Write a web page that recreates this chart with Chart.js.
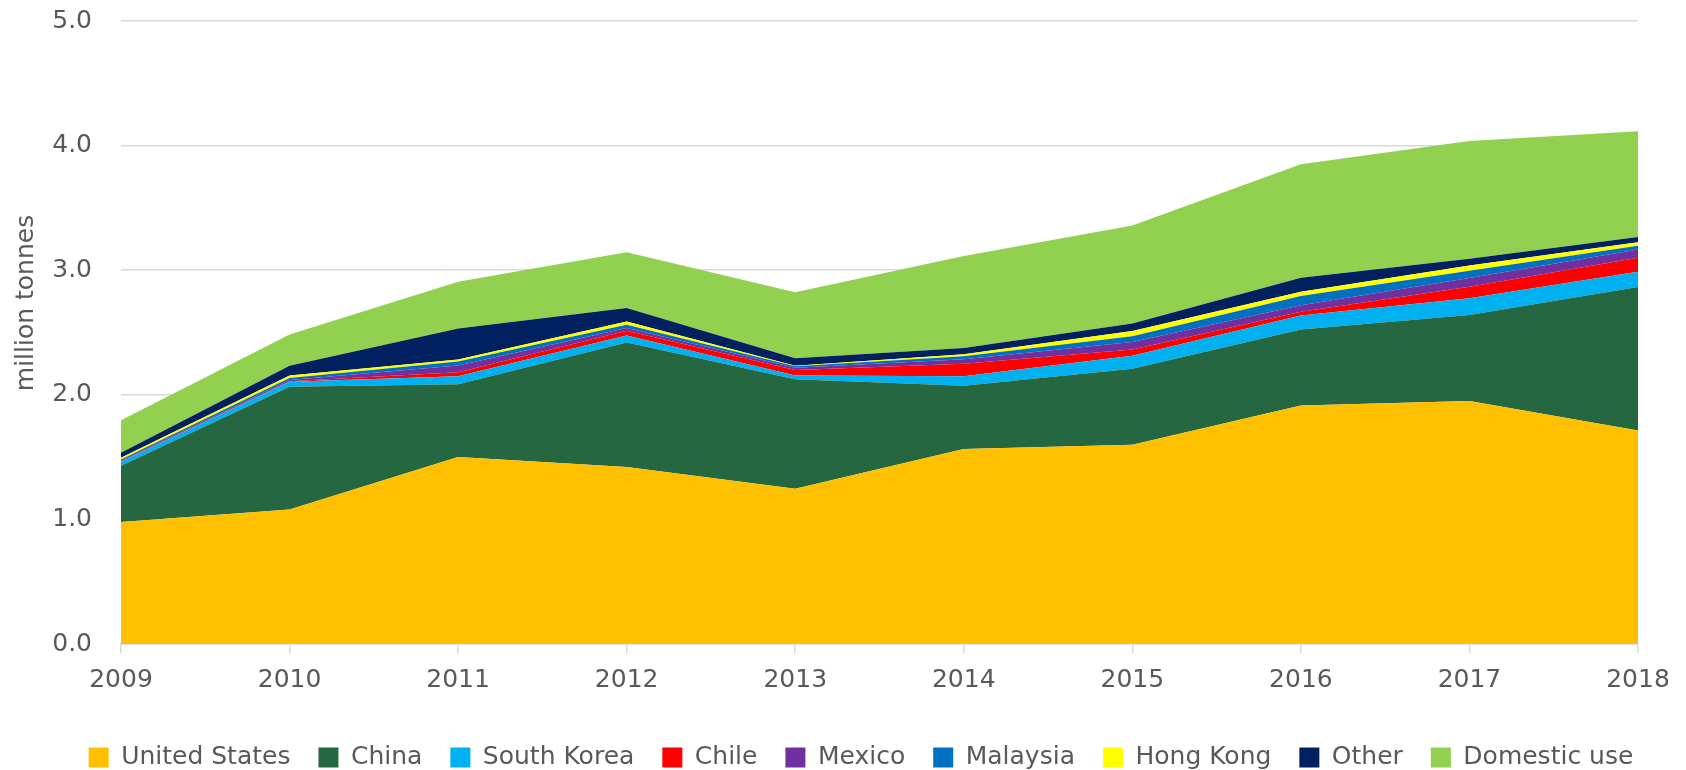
<!DOCTYPE html>
<html>
<head>
<meta charset="utf-8">
<script src="https://cdn.jsdelivr.net/npm/chart.js@4.4.1/dist/chart.umd.min.js"></script>
<style>
  body { margin: 0; background: #ffffff; }
  #areaChart { display: block; }
</style>
</head>
<body>
<canvas id="areaChart" width="1686" height="770"></canvas>
<script>
const years = ["2009", "2010", "2011", "2012", "2013", "2014", "2015", "2016", "2017", "2018"];
const yTicks = [0, 1, 2, 3, 4, 5];

// million tonnes
const unitedStates = [0.98, 1.08, 1.50, 1.42, 1.245, 1.566, 1.60, 1.915, 1.95, 1.714];
const china = [0.45, 0.984, 0.585, 1.0, 0.88, 0.507, 0.61, 0.61, 0.69, 1.152];
const southKorea = [0.03, 0.04, 0.064, 0.056, 0.03, 0.075, 0.104, 0.112, 0.134, 0.121];
const chile = [0.005, 0.005, 0.032, 0.038, 0.045, 0.102, 0.05, 0.029, 0.094, 0.113];
const mexico = [0.005, 0.01, 0.054, 0.022, 0.017, 0.035, 0.06, 0.052, 0.07, 0.067];
const malaysia = [0.01, 0.015, 0.032, 0.026, 0.013, 0.024, 0.046, 0.075, 0.058, 0.029];
const hongKong = [0.015, 0.02, 0.016, 0.027, 0.003, 0.016, 0.043, 0.034, 0.041, 0.029];
const other = [0.04, 0.08, 0.25, 0.108, 0.06, 0.051, 0.06, 0.113, 0.054, 0.041];
const domesticUse = [0.26, 0.25, 0.375, 0.447, 0.53, 0.737, 0.785, 0.91, 0.945, 0.85];

const seriesNames = ["United States", "China", "South Korea", "Chile", "Mexico", "Malaysia", "Hong Kong", "Other", "Domestic use"];
const seriesValues = [unitedStates, china, southKorea, chile, mexico, malaysia, hongKong, other, domesticUse];
const seriesColors = ["#FFC000", "#246741", "#00B0F0", "#FF0000", "#7030A0", "#0070C0", "#FFFF00", "#002060", "#92D050"];

const yTitle = "million tonnes";

window.onload = areaChart;

// y axis title sits a little above the middle of the axis, like the original
const yTitlePlugin = {
  id: "yTitle",
  afterDraw(chart) {
    const ctx = chart.ctx;
    ctx.save();
    ctx.translate(26, 303);
    ctx.rotate(-Math.PI / 2);
    ctx.font = "25px 'DejaVu Sans'";
    ctx.fillStyle = "#595959";
    ctx.textAlign = "center";
    ctx.textBaseline = "middle";
    ctx.fillText(yTitle, 0, 0);
    ctx.restore();
  },
};

// the legend row in the original is centred a bit right of the canvas middle
const legendShift = {
  id: "legendShift",
  afterLayout(chart) {
    chart.legend.left += 42;
    chart.legend.right += 42;
  },
};

function areaChart() {
  const textColor = "#595959";
  const gridColor = "#D9D9D9";

  const datasets = seriesNames.map((name, i) => ({
    label: name,
    data: seriesValues[i],
    backgroundColor: seriesColors[i],
    borderColor: seriesColors[i],
    borderWidth: 0,
    pointRadius: 0,
    pointHoverRadius: 0,
    tension: 0,
    fill: i === 0 ? "origin" : "-1",
  }));

  const data = {
    labels: years,
    datasets: datasets,
  };

  const config = {
    type: "line",
    data: data,
    plugins: [yTitlePlugin, legendShift],
    options: {
      responsive: false,
      animation: false,
      layout: {
        padding: { top: 21, right: 48, left: 0, bottom: -10 },
      },
      plugins: {
        tooltip: { enabled: false },
        legend: {
          position: "bottom",
          labels: {
            color: textColor,
            font: { family: "DejaVu Sans", size: 25 },
            boxWidth: 20,
            boxHeight: 20,
            padding: 28,
          },
        },
      },
      scales: {
        x: {
          offset: false,
          grid: {
            drawOnChartArea: false,
            drawTicks: true,
            tickLength: 9,
            color: gridColor,
            lineWidth: 1.5,
          },
          border: { color: gridColor, width: 1.5 },
          ticks: {
            color: textColor,
            font: { family: "DejaVu Sans", size: 25 },
            padding: 12,
            maxRotation: 0,
          },
          afterFit: (scale) => {
            scale.height = 73;
          },
        },
        y: {
          stacked: true,
          min: 0,
          max: 5,
          afterBuildTicks: (scale) => {
            scale.ticks = yTicks.map((v) => ({ value: v }));
          },
          grid: {
            color: gridColor,
            lineWidth: 1.5,
            drawTicks: false,
          },
          border: { display: false },
          ticks: {
            color: textColor,
            font: { family: "DejaVu Sans", size: 25 },
            padding: 29,
            callback: (v) => v.toFixed(1),
          },
          afterFit: (scale) => {
            scale.width = 121;
            scale.paddingTop = 0;
            scale.paddingBottom = 0;
          },
        },
      },
    },
  };

  const myChart = new Chart(document.getElementById("areaChart"), config);
}
</script>
</body>
</html>
